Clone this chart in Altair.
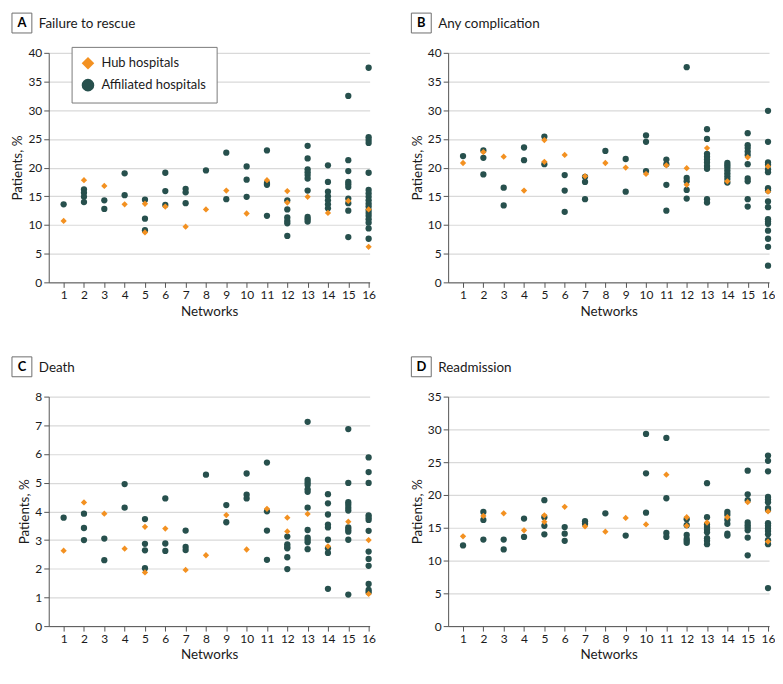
import altair as alt
import pandas as pd

NETWORKS = list(range(1, 17))
TYPES = ["Hub hospitals", "Affiliated hospitals"]
ORANGE = "#F39121"
TEAL = "#27504D"

# Panel A: Failure to rescue
A_HUB = [[10.7], [17.8], [16.8], [13.6], [13.7, 8.7], [13.2], [9.7], [12.7], [16.0], [12.0],
         [17.8], [15.9, 13.9], [14.9], [12.1], [14.2], [12.7, 6.2]]
A_AFF = [[13.6], [16.2, 15.6, 14.9, 14.0], [14.3, 12.8], [19.0, 15.2], [14.4, 11.1, 9.1],
         [19.1, 15.9, 13.5], [16.3, 15.7, 13.8], [19.5], [22.6, 14.5], [20.2, 17.9, 14.9],
         [23.0, 17.3, 17.0, 11.6], [14.3, 12.7, 11.3, 10.7, 10.3, 8.1],
         [23.8, 21.6, 19.7, 19.2, 18.7, 18.1, 16.0, 11.4, 11.0, 10.6],
         [20.4, 17.5, 15.8, 15.0, 14.3, 13.6, 12.9],
         [32.5, 21.3, 19.4, 17.5, 17.1, 16.6, 14.6, 13.8, 12.5, 7.9],
         [37.4, 25.3, 24.8, 24.3, 19.1, 16.1, 15.5, 14.9, 14.3, 13.7, 13.2, 12.6, 12.1,
          11.6, 11.0, 10.4, 9.4, 7.6]]

# Panel B: Any complication
B_HUB = [[20.8], [22.7], [21.9], [16.0], [24.8, 21.0], [22.2], [18.5], [20.8], [20.0], [18.9],
         [20.4], [19.9, 17.0], [23.4], [17.6], [21.8], [20.2, 15.8]]
B_AFF = [[22.0], [23.0, 21.7, 18.8], [16.5, 13.4], [23.5, 21.3], [25.4, 20.6],
         [18.7, 16.0, 12.3], [18.4, 17.5, 14.5], [22.9], [21.5, 15.8], [25.6, 24.5, 19.4],
         [21.4, 20.6, 17.0, 12.5], [37.5, 18.2, 17.6, 16.1, 14.6],
         [26.7, 25.0, 22.4, 21.9, 21.4, 20.9, 20.3, 19.8, 14.5, 13.9],
         [20.8, 20.4, 20.0, 19.5, 19.0, 18.5, 18.0, 17.4],
         [26.0, 23.9, 23.4, 22.8, 22.2, 20.6, 18.1, 17.6, 14.5, 13.2],
         [29.9, 24.5, 20.9, 20.5, 19.7, 19.2, 16.4, 16.0, 14.1, 13.1, 11.0, 10.6, 10.2,
          9.0, 7.6, 6.2, 2.9]]

# Panel C: Death
C_HUB = [[2.63], [4.31], [3.92], [2.70], [3.46, 1.87], [3.40], [1.96], [2.47], [3.87], [2.67],
         [4.09], [3.78, 3.30], [3.91], [2.78], [3.64], [3.00, 1.12]]
C_AFF = [[3.78], [3.92, 3.42, 3.00], [3.05, 2.30], [4.95, 4.13], [3.73, 2.87, 2.64, 2.02],
         [4.45, 2.88, 2.62], [3.33, 2.76, 2.65], [5.28], [4.22, 3.62], [5.32, 4.58, 4.45],
         [5.70, 4.00, 3.33, 2.31], [3.12, 2.85, 2.77, 2.71, 2.40, 1.99],
         [7.12, 5.10, 5.01, 4.92, 4.77, 4.68, 4.13, 3.35, 3.08, 3.00, 2.92, 2.68],
         [4.60, 4.28, 3.89, 3.54, 3.44, 3.01, 2.71, 2.55, 1.30],
         [6.87, 4.99, 4.32, 4.23, 4.13, 4.03, 3.44, 3.36, 3.29, 3.01, 1.10],
         [5.88, 5.37, 4.99, 3.86, 3.78, 3.70, 3.32, 2.60, 2.34, 2.10, 1.47, 1.26, 1.18]]

# Panel D: Readmission
D_HUB = [[13.7], [16.8], [17.2], [14.6], [16.9, 15.9], [18.2], [15.2], [14.4], [16.5], [15.5],
         [23.1], [16.6, 15.3], [15.8], [16.6], [18.9], [17.5, 12.9]]
D_AFF = [[12.3], [17.4, 16.2, 13.2], [13.2, 11.7], [16.4, 13.6], [19.2, 16.6, 15.3, 14.0],
         [15.1, 14.1, 13.0], [16.0, 15.6], [17.2], [13.8], [29.3, 23.3, 17.3],
         [28.7, 19.5, 14.2, 13.6], [16.3, 15.4, 13.9, 13.3, 13.0, 12.7],
         [21.8, 16.6, 15.5, 15.1, 14.7, 14.3, 13.4, 13.0, 12.5],
         [17.4, 17.0, 16.2, 15.6, 14.1, 13.8],
         [23.7, 20.1, 19.2, 15.8, 15.4, 15.0, 14.6, 13.5, 10.8],
         [26.0, 25.2, 23.6, 19.7, 19.3, 18.9, 18.0, 17.7, 15.7, 15.3, 14.9, 14.5, 14.0,
          13.1, 12.5, 5.8]]

W, H = 323, 231
FONT = "Lato"


def to_df(hub, aff):
    rows = []
    for n, vals in zip(NETWORKS, aff):
        for v in vals:
            rows.append({"network": n, "value": v, "type": TYPES[1]})
    for n, vals in zip(NETWORKS, hub):
        for v in vals:
            rows.append({"network": n, "value": v, "type": TYPES[0]})
    return pd.DataFrame(rows)


def panel(letter, title, hub, aff, ymax, ystep, show_legend):
    df = to_df(hub, aff)
    if show_legend:
        leg = alt.Legend(title=None, orient="none", legendX=23, legendY=-6,
                         fillColor="white", strokeColor="#7a7a7a", padding=10,
                         symbolSize=160, labelFontSize=13, labelFont=FONT,
                         rowPadding=8, labelOffset=7, symbolStrokeWidth=0,
                         labelColor="#1a1a1a")
    else:
        leg = None
    pts = alt.Chart(df).mark_point(filled=True, opacity=1, size=40).encode(
        x=alt.X("network:Q",
                scale=alt.Scale(domain=[0.267, 16.05], nice=False, zero=False),
                axis=alt.Axis(values=NETWORKS, title="Networks", grid=False,
                              labelPadding=2, titlePadding=4)),
        y=alt.Y("value:Q",
                scale=alt.Scale(domain=[0, ymax], nice=False),
                axis=alt.Axis(values=list(range(0, ymax + 1, ystep)), title="Patients, %",
                              grid=True, labelPadding=2, titlePadding=3)),
        color=alt.Color("type:N", scale=alt.Scale(domain=TYPES, range=[ORANGE, TEAL]),
                        legend=leg),
        shape=alt.Shape("type:N", scale=alt.Scale(domain=TYPES, range=["diamond", "circle"]),
                        legend=leg),
    )
    one = pd.DataFrame({"k": [0]})
    box = alt.Chart(one).mark_rect(fill="white", stroke="#6e6e6e", strokeWidth=1).encode(
        x=alt.value(-37), x2=alt.value(-17), y=alt.value(-40), y2=alt.value(-20))
    let = alt.Chart(one).mark_text(font=FONT, fontWeight="bold", fontSize=13, color="black",
                                   align="center", baseline="middle").encode(
        x=alt.value(-27), y=alt.value(-30), text=alt.value(letter))
    ttl = alt.Chart(one).mark_text(font=FONT, fontSize=13.5, color="#1a1a1a",
                                   align="left", baseline="alphabetic").encode(
        x=alt.value(-10), y=alt.value(-25), text=alt.value(title))
    return alt.layer(pts, box, let, ttl).properties(width=W, height=H)


pA = panel("A", "Failure to rescue", A_HUB, A_AFF, 40, 5, True)
pB = panel("B", "Any complication", B_HUB, B_AFF, 40, 5, False)
pC = panel("C", "Death", C_HUB, C_AFF, 8, 1, False)
pD = panel("D", "Readmission", D_HUB, D_AFF, 35, 5, False)

chart = alt.concat(pA, pB, pC, pD, columns=2, spacing={"row": 38, "column": 35}).resolve_scale(
    color="independent", shape="independent"
).properties(
    padding={"left": 3, "top": 2, "right": 0, "bottom": 0}
).configure_view(stroke=None).configure_axis(
    labelFont=FONT, labelFontSize=12, labelColor="#1a1a1a",
    titleFont=FONT, titleFontSize=13.5, titleFontWeight="normal", titleColor="#1a1a1a",
    domainColor="#555555", tickColor="#555555", tickSize=5,
    gridColor="#d9d9d9", gridWidth=1.2
)

chart.save("out.html", embed_options={"renderer": "svg", "actions": False})
